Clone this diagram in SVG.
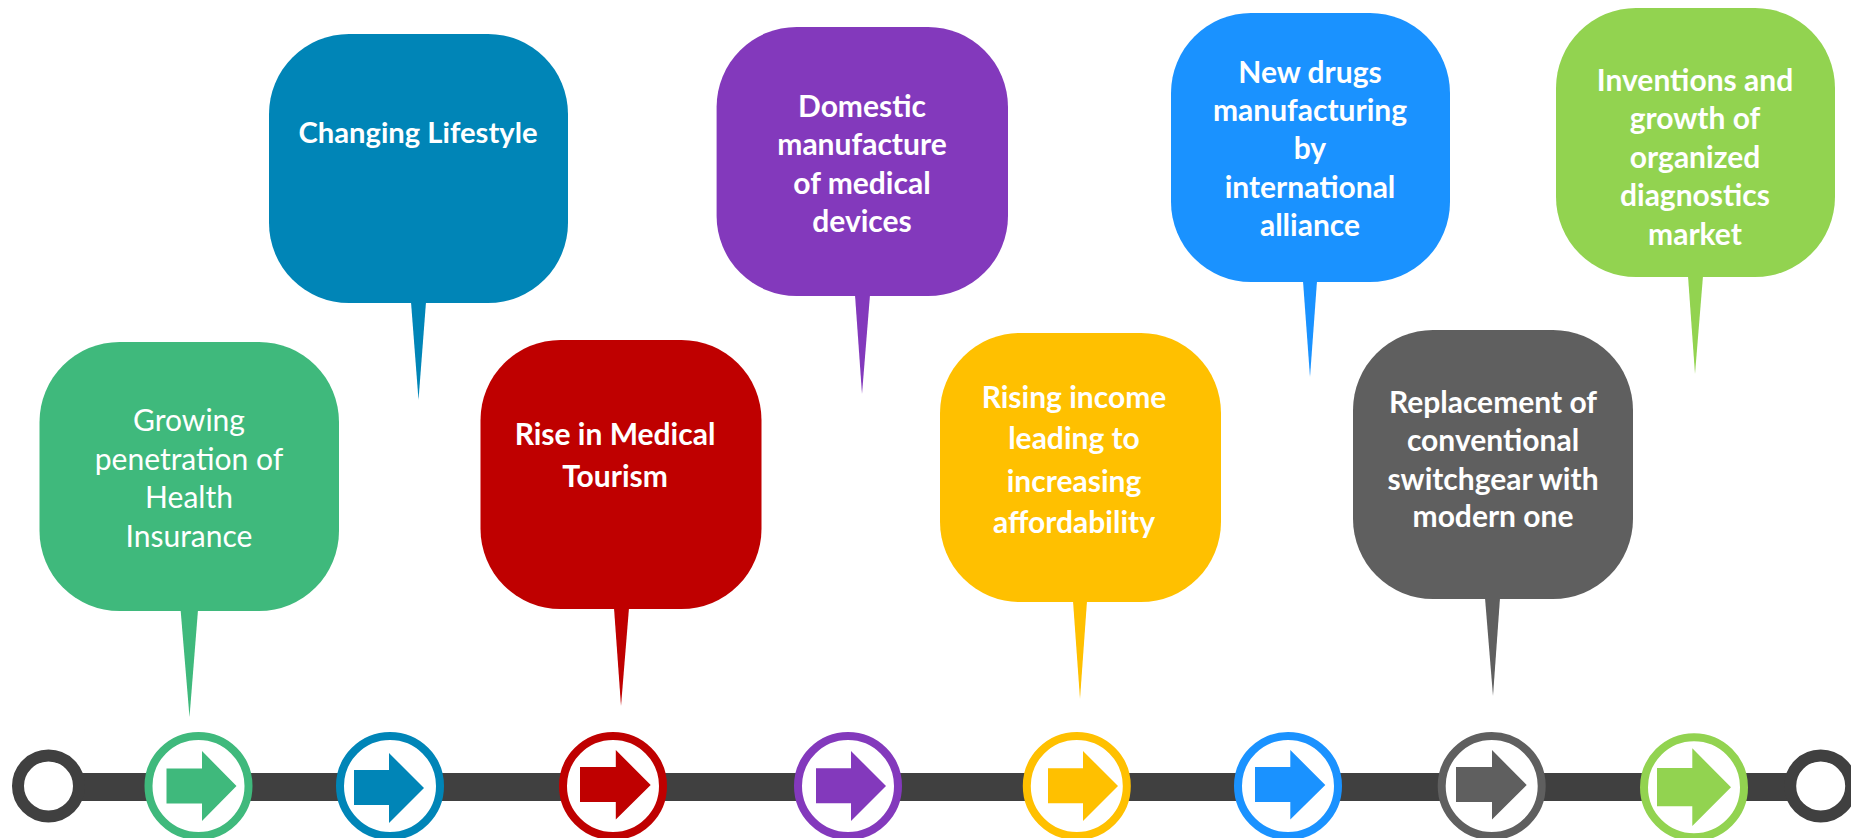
<svg xmlns="http://www.w3.org/2000/svg" width="1851" height="838" viewBox="0 0 1851 838">
<style>
text{font-family:"Lato","Liberation Sans",sans-serif;font-size:30px;font-weight:700;fill:#fff;text-anchor:middle}
text.r{font-weight:400}
text.s{font-size:29.200px}
.ring{fill:#fff;stroke-width:8}
.end{fill:#fff;stroke:#404040;stroke-width:12}
</style>
<rect width="1851" height="838" fill="#fff"/>
<g id="connectors"><rect id="track" x="60" y="773" width="1740" height="28" fill="#404040"/>
<circle class="end" cx="48.5" cy="786" r="30.5"/>
<circle class="end" cx="1820.7" cy="786" r="30.5"/></g>
<g id="n1" fill="#3fb97c"><rect x="39.5" y="342" width="299.5" height="269" rx="80"/><path d="M180.6 610L198 610L189.500 717Z"/><text class="r"><tspan x="189" y="431">Growing</tspan><tspan x="189" y="470">penetration of</tspan><tspan x="189" y="508">Health</tspan><tspan x="189" y="547">Insurance</tspan></text></g>
<g id="n2" fill="#0085b7"><rect x="269" y="34" width="299" height="269" rx="80"/><path d="M411 302L426 302L418.5 400Z"/><text class="s"><tspan x="418" y="143">Changing Lifestyle</tspan></text></g>
<g id="n3" fill="#bf0000"><rect x="480.500" y="340" width="281" height="269" rx="80"/><path d="M614 608L629 608L621 706Z"/><text><tspan x="615" y="445">Rise in Medical</tspan><tspan x="615" y="487">Tourism</tspan></text></g>
<g id="n4" fill="#8339bc"><rect x="716.600" y="27" width="291.400" height="269" rx="80"/><path d="M855 295L870 295L862 394Z"/><text><tspan x="862" y="117">Domestic</tspan><tspan x="862" y="155">manufacture</tspan><tspan x="862" y="194">of medical</tspan><tspan x="862" y="232">devices</tspan></text></g>
<g id="n5" fill="#ffc000"><rect x="940" y="333" width="281" height="269" rx="80"/><path d="M1073 601L1087 601L1080 699Z"/><text><tspan x="1074" y="408">Rising income</tspan><tspan x="1074" y="449">leading to</tspan><tspan x="1074" y="492">increasing</tspan><tspan x="1074" y="533">affordability</tspan></text></g>
<g id="n6" fill="#1a92ff"><rect x="1171" y="13" width="279" height="269" rx="80"/><path d="M1303 281L1317 281L1310 377Z"/><text><tspan x="1310" y="83">New drugs</tspan><tspan x="1310" y="121">manufacturing</tspan><tspan x="1310" y="159">by</tspan><tspan x="1310" y="198">international</tspan><tspan x="1310" y="236">alliance</tspan></text></g>
<g id="n7" fill="#5f5f5f"><rect x="1353" y="330" width="280" height="269" rx="80"/><path d="M1485 598L1500 598L1493 696Z"/><text><tspan x="1493" y="413">Replacement of</tspan><tspan x="1493" y="451">conventional</tspan><tspan x="1493" y="490">switchgear with</tspan><tspan x="1493" y="527">modern one</tspan></text></g>
<g id="n8" fill="#92d350"><rect x="1556" y="8" width="279" height="269" rx="80"/><path d="M1688 276L1703 276L1695 374Z"/><text><tspan x="1695" y="91">Inventions and</tspan><tspan x="1695" y="129">growth of</tspan><tspan x="1695" y="168">organized</tspan><tspan x="1695" y="206">diagnostics</tspan><tspan x="1695" y="245">market</tspan></text></g>
<g id="a1" fill="#3fb97c"><circle class="ring" cx="198.500" cy="786" r="50" stroke="#3fb97c"/><path d="M166.500 768.500H202V751L236.500 786L202 821V803.500H166.500Z"/></g>
<g id="a2" fill="#0085b7"><circle class="ring" cx="390" cy="786" r="50" stroke="#0085b7"/><path d="M354 770H389V753L424 788L389 823V805H354Z"/></g>
<g id="a3" fill="#bf0000"><circle class="ring" cx="613" cy="786" r="50" stroke="#bf0000"/><path d="M580 767H615.800V750L650.700 785L615.800 819.500V802H580Z"/></g>
<g id="a4" fill="#8339bc"><circle class="ring" cx="848" cy="786" r="50" stroke="#8339bc"/><path d="M816 768.300H851V751L886 786L851 821V803.300H816Z"/></g>
<g id="a5" fill="#ffc000"><circle class="ring" cx="1076.800" cy="786" r="50" stroke="#ffc000"/><path d="M1048 768.300H1083V751L1118 786L1083 821V803.300H1048Z"/></g>
<g id="a6" fill="#1a92ff"><circle class="ring" cx="1288" cy="786" r="50" stroke="#1a92ff"/><path d="M1255 767H1290.300V750L1325.300 785L1290.300 819.500V802H1255Z"/></g>
<g id="a7" fill="#5f5f5f"><circle class="ring" cx="1491.700" cy="786" r="50" stroke="#5f5f5f"/><path d="M1456 767H1492V750L1526.700 785L1492 819.500V802H1456Z"/></g>
<g id="a8" fill="#92d350"><circle class="ring" cx="1694" cy="787.300" r="50" stroke="#92d350"/><path d="M1657 768H1692.300V748.300L1731 787.300L1692.300 826V806.300H1657Z"/></g>
</svg>
